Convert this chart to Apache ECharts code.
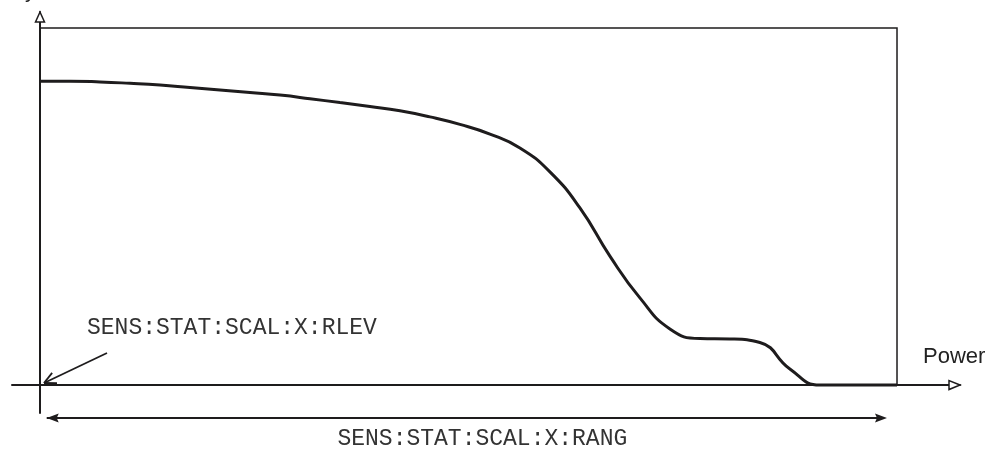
<!DOCTYPE html>
<html><head><meta charset="utf-8">
<script src="https://cdn.jsdelivr.net/npm/echarts@6/dist/echarts.min.js"></script>
<style>html,body{margin:0;padding:0;background:#fff}#c{width:1000px;height:457px}</style>
</head><body><div id="c"></div>
<script>
// Curve data (power in % of range, level in % of frame height)
const powerX = [0, 3.5, 7.0, 10.5, 14.0, 17.5, 21.0, 24.5, 28.0, 31.5, 35.0, 38.5, 42.0, 45.5, 49.0, 52.5, 56.0, 59.5, 63.0, 66.5, 70.0, 73.5, 77.0, 80.5, 84.0, 87.5, 91.0, 94.5, 98.0, 100];
const levelY = [85.1, 85.1, 84.9, 84.5, 84.0, 83.3, 82.6, 81.9, 81.2, 80.2, 79.1, 78.0, 76.8, 75.1, 73.0, 70.3, 66.4, 59.7, 49.6, 36.1, 24.4, 15.7, 13.0, 12.9, 11.9, 4.5, 0, 0, 0, 0];
const xAxisName = 'Power';
const yAxisName = 'Probability';
const refLevelLabel = 'SENS:STAT:SCAL:X:RLEV';
const rangeLabel = 'SENS:STAT:SCAL:X:RANG';
const frameX = [0, 100];
const frameY = [0, 100];

const chart = echarts.init(document.getElementById('c'), null, {renderer: 'canvas'});
const ink = '#1e1c1d';
chart.setOption({
  animation: false,
  grid: {left: 12, right: 40, top: 12, bottom: 44, containLabel: false},
  xAxis: {type: 'value', min: -3.267, max: 107.35,
    axisLine: {show: true, onZero: true, lineStyle: {color: ink, width: 2}},
    axisTick: {show: false}, axisLabel: {show: false}, splitLine: {show: false}},
  yAxis: {type: 'value', min: -7.84, max: 104.48,
    axisLine: {show: true, onZero: true, lineStyle: {color: ink, width: 2}},
    axisTick: {show: false}, axisLabel: {show: false}, splitLine: {show: false}},
  series: [{
    type: 'line', data: powerX.map((x, i) => [x, levelY[i]]),
    smooth: 0.5, showSymbol: false, symbol: 'none',
    lineStyle: {color: ink, width: 3},
    markArea: {silent: true, itemStyle: {color: 'rgba(0,0,0,0)', borderColor: ink, borderWidth: 1.5},
      data: [[{coord: [frameX[0], frameY[1]]}, {coord: [frameX[1], frameY[0]]}]]}
  }]
});

const P = (x, y) => chart.convertToPixel({gridIndex: 0}, [x, y]);
const origin = P(0, 0);
const yTop = P(0, 104.48);
const xEnd = P(107.35, 0);
const rA = P(0.2, 0), rB = P(98.83, 0);
const yArr = origin[1] + 33;
const g = [];
// y axis hollow arrow
g.push({type: 'polygon', shape: {points: [[yTop[0], yTop[1]], [yTop[0] - 4.5, yTop[1] + 10], [yTop[0] + 4.5, yTop[1] + 10]]},
  style: {fill: '#fff', stroke: ink, lineWidth: 1.5}, z: 10});
// x axis hollow arrow
g.push({type: 'polygon', shape: {points: [[xEnd[0], xEnd[1]], [xEnd[0] - 11, xEnd[1] - 4.5], [xEnd[0] - 11, xEnd[1] + 4.5]]},
  style: {fill: '#fff', stroke: ink, lineWidth: 1.5}, z: 10});
// range double arrow
g.push({type: 'line', shape: {x1: rA[0] + 5, y1: yArr, x2: rB[0] - 5, y2: yArr}, style: {stroke: ink, lineWidth: 2}, z: 10});
g.push({type: 'polygon', shape: {points: [[rA[0] + 5, yArr], [rA[0] + 17, yArr - 4.5], [rA[0] + 15, yArr], [rA[0] + 17, yArr + 4.5]]}, style: {fill: ink}, z: 10});
g.push({type: 'polygon', shape: {points: [[rB[0], yArr], [rB[0] - 12, yArr - 4.5], [rB[0] - 10, yArr], [rB[0] - 12, yArr + 4.5]]}, style: {fill: ink}, z: 10});
// reference level arrow
const tip = [origin[0] + 4, origin[1] - 2];
const st = [origin[0] + 67, origin[1] - 32];
g.push({type: 'line', shape: {x1: st[0], y1: st[1], x2: tip[0], y2: tip[1]}, style: {stroke: ink, lineWidth: 1.8}, z: 10});
const dx = st[0] - tip[0], dy = st[1] - tip[1], L = Math.hypot(dx, dy);
const ux = dx / L, uy = dy / L;
[-0.45, 0.45].forEach(a => {
  const c = Math.cos(a), s = Math.sin(a);
  const vx = ux * c - uy * s, vy = ux * s + uy * c;
  g.push({type: 'line', shape: {x1: tip[0], y1: tip[1], x2: tip[0] + vx * 13, y2: tip[1] + vy * 13}, style: {stroke: ink, lineWidth: 1.8}, z: 10});
});
// texts
const mono = '23px "Liberation Mono", "Courier New", monospace';
g.push({type: 'text', style: {text: refLevelLabel, x: origin[0] + 47, y: origin[1] - 57, font: mono, fill: '#333', align: 'left', verticalAlign: 'middle'}, z: 10});
g.push({type: 'text', style: {text: rangeLabel, x: (rA[0] + rB[0]) / 2 + 18, y: origin[1] + 54, font: mono, fill: '#333', align: 'center', verticalAlign: 'middle'}, z: 10});
g.push({type: 'text', style: {text: xAxisName, x: 923, y: origin[1] - 28, font: '22px "Liberation Sans", Arial, sans-serif', fill: '#222', align: 'left', verticalAlign: 'middle'}, z: 10});
g.push({type: 'text', style: {text: yAxisName, x: 36, y: -9, font: '22px "Liberation Sans", Arial, sans-serif', fill: '#222', align: 'right', verticalAlign: 'middle'}, z: 10});
chart.setOption({graphic: g});
</script>
</body></html>
